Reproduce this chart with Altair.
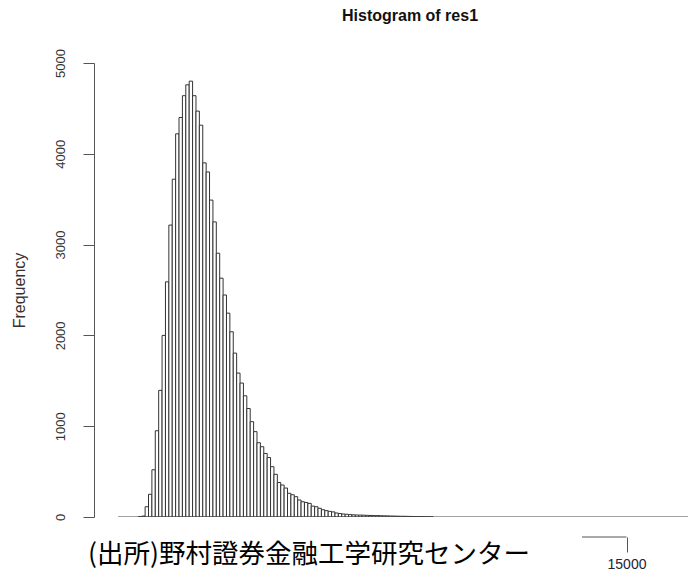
import altair as alt
import pandas as pd

# Histogram of res1: bin width 100, counts per bin starting at 0
BIN = 100
counts = [
    0, 0, 0, 0, 0, 0, 4, 10, 113, 250,
    520, 950, 1395, 2000, 2590, 3215, 3720, 4220, 4400, 4640,
    4760, 4800, 4640, 4470, 4315, 3900, 3800, 3490, 3250, 2905,
    2630, 2445, 2245, 2040, 1805, 1585, 1475, 1335, 1195, 1050,
    940, 818, 774, 700, 655, 554, 470, 380, 352, 319,
    261, 245, 224, 187, 168, 160, 150, 120, 113, 96,
    80, 70, 62, 56, 44, 38, 33, 30, 26, 24,
    22, 21, 20, 18, 17, 16, 15, 14, 13, 12,
    11, 10, 9, 8, 8, 7, 6, 5, 5, 4,
    3, 2, 1,
]
last_break = 17700          # upper end of the breaks (empty bins up to here)
x_ticks = [0, 5000, 10000, 15000]
y_ticks = [0, 1000, 2000, 3000, 4000, 5000]

starts = [i * BIN for i in range(len(counts))]
hist = pd.DataFrame({
    "start": starts,
    "end": [s + BIN for s in starts],
    "count": counts,
})
hist = hist[hist["count"] > 0]

W, H = 594, 454
FONT = "Liberation Sans"

x_scale = alt.Scale(domain=[-708, 16814], nice=False, zero=False)
y_scale = alt.Scale(domain=[0, 5000], nice=False)

bars = alt.Chart(hist).mark_rect(
    fill="white", stroke="#333", strokeWidth=1, clip=True
).encode(
    x=alt.X("start:Q", scale=x_scale, axis=alt.Axis(
        # only the last tick sits outside the note panel
        values=x_ticks[-1:], title="", domain=False, grid=False,
        tickSize=15, tickColor="#555", offset=20,
        labelFontSize=14, labelColor="#223", labelFont=FONT,
        labelPadding=5, format="d",
    )),
    x2="end:Q",
    y=alt.Y("count:Q", scale=y_scale, axis=alt.Axis(
        values=y_ticks, grid=False, domainColor="#555", tickColor="#555",
        tickSize=11, labelAngle=270, labelAlign="center",
        labelBaseline="bottom", labelPadding=16, labelFontSize=13,
        labelColor="#333", labelFont=FONT, format="d",
        title="Frequency", titleAngle=270, titleFontSize=16,
        titleFontWeight="normal", titleFont=FONT, titleColor="#3a2e2e",
        titleX=-75, titleY=H / 2, titleAlign="center",
        titleBaseline="middle",
    )),
    y2=alt.datum(0),
)

# zero-count bins drawn as the flat base line
baseline = alt.Chart(pd.DataFrame({"a": [0]})).mark_rule(
    color="#444", strokeWidth=1, clip=True
).encode(
    x=alt.datum(0), x2=alt.datum(last_break), y=alt.datum(0)
)

# x axis line runs from the first to the last tick only
x_axis_line = alt.Chart(pd.DataFrame({"a": [0]})).mark_rule(
    color="#555", strokeWidth=1
).encode(
    x=alt.datum(x_ticks[0]), x2=alt.datum(x_ticks[-1]),
    y=alt.value(H + 20), y2=alt.value(H + 20)
)

# source note on a white panel
note_box = alt.Chart(pd.DataFrame({"a": [0]})).mark_rect(color="white").encode(
    x=alt.value(-94), x2=alt.value(488), y=alt.value(462), y2=alt.value(510)
)
note = alt.Chart(pd.DataFrame({"a": [0]})).mark_text(
    text="(出所)野村證券金融工学研究センター", align="left", baseline="middle",
    fontSize=26.5, font="Noto Sans CJK JP", color="black"
).encode(x=alt.value(-6), y=alt.value(492))

chart = alt.layer(bars, baseline, x_axis_line, note_box, note).properties(
    width=W, height=H,
    title=alt.TitleParams(
        "Histogram of res1", fontSize=16, fontWeight="bold", font=FONT,
        color="#111", anchor="middle", dx=19, offset=25,
    ),
    autosize=alt.AutoSizeParams(type="none"),
    padding={"left": 94, "top": 63, "right": 1, "bottom": 54},
).configure(
    background="white", view=alt.ViewConfig(strokeWidth=0)
)

chart.save("out.html", embed_options={"renderer": "svg", "actions": False})
